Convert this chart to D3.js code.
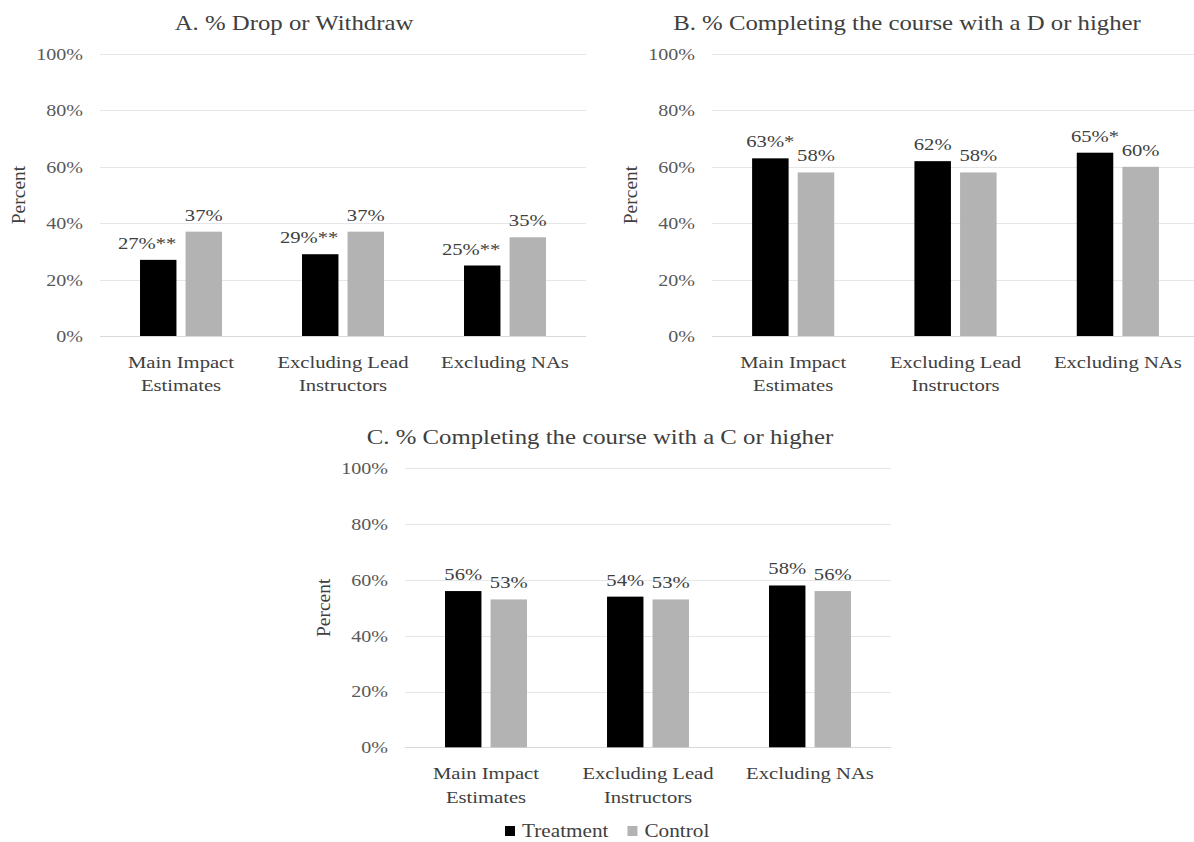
<!DOCTYPE html>
<html><head><meta charset="utf-8">
<script src="https://cdn.jsdelivr.net/npm/d3@7"></script>
<style>body{margin:0;background:#fff} svg{display:block} text{font-family:"Liberation Serif","Tinos","Times New Roman","DejaVu Serif",serif;}</style>
</head><body>
<svg id="chart" width="1194" height="842"></svg>
<script>
// ---- data ----
const categories = ["Main Impact Estimates", "Excluding Lead Instructors", "Excluding NAs"];
const series = ["Treatment", "Control"];
const titles = [
  "A. % Drop or Withdraw",
  "B. % Completing the course with a D or higher",
  "C. % Completing the course with a C or higher"
];
const yTicks = [0, 20, 40, 60, 80, 100];
const axisTitle = "Percent";

const dropTreatment = [27, 29, 25];
const dropControl   = [37, 37, 35];
const dropStars     = ["**", "**", "**"];

const dGradeTreatment = [63, 62, 65];
const dGradeControl   = [58, 58, 60];
const dGradeStars     = ["*", "", "*"];

const cGradeTreatment = [56, 54, 58];
const cGradeControl   = [53, 53, 56];
const cGradeStars     = ["", "", ""];

// ---- layout / style ----
const SX = 1.18;
const FONT = '"Liberation Serif","Tinos","Times New Roman","DejaVu Serif",serif';
const TEXT = "#404040", TICK = "#595959";
const svg = d3.select("#chart");
svg.append("rect").attr("width", 1194).attr("height", 842).attr("fill", "#fff");

const layouts = [
  {x0: 100, x1: 586, yTop: 54, yBot: 336, titleX: 294, titleY: 30},
  {x0: 712, x1: 1199, yTop: 54, yBot: 336, titleX: 907, titleY: 30},
  {x0: 405, x1: 891, yTop: 468.3, yBot: 747.3, titleX: 600, titleY: 444}
];
const panels = [
  {title: titles[0], t: dropTreatment, c: dropControl, s: dropStars},
  {title: titles[1], t: dGradeTreatment, c: dGradeControl, s: dGradeStars},
  {title: titles[2], t: cGradeTreatment, c: cGradeControl, s: cGradeStars}
];
const color = d3.scaleOrdinal().domain(series).range(["#000000", "#b3b3b3"]);

function sText(sel, x, y, txt, size, anchor, fill) {
  return sel.append("text")
    .attr("transform", `translate(${x},${y}) scale(${SX},1)`)
    .attr("text-anchor", anchor).style("font-family", FONT)
    .attr("font-size", size).attr("fill", fill).text(txt);
}

panels.forEach((p, i) => {
  const L = layouts[i];
  const g = svg.append("g");
  const y = d3.scaleLinear().domain([0, 100]).range([L.yBot, L.yTop]);
  const x = d3.scaleBand().domain(categories).range([L.x0, L.x1])
    .paddingInner(0.494).paddingOuter(0.247);
  const xs = d3.scaleBand().domain(series).range([0, x.bandwidth()]).paddingInner(0.2);

  // gridlines
  g.append("g").selectAll("line").data(yTicks).join("line")
    .attr("x1", L.x0).attr("x2", L.x1)
    .attr("y1", d => Math.round(y(d)) + 0.5).attr("y2", d => Math.round(y(d)) + 0.5)
    .attr("stroke", d => d === 0 ? "#d9d9d9" : "#e6e6e6").attr("stroke-width", 1);

  // y axis
  const ya = g.append("g").attr("transform", `translate(${L.x0},0)`)
    .call(d3.axisLeft(y).tickValues(yTicks).tickFormat(d => d + "%").tickSize(0).tickPadding(17));
  ya.attr("font-family", null);
  ya.select(".domain").remove();
  ya.selectAll("text").style("font-family", FONT).attr("font-size", 17).attr("fill", TICK)
    .attr("x", null).attr("transform", `translate(-17,0) scale(${SX},1)`);

  // axis title
  g.append("text")
    .attr("transform", `translate(${L.x0 - 82},${(L.yTop + L.yBot) / 2}) rotate(-90)`)
    .attr("text-anchor", "middle").attr("dy", "0.35em")
    .style("font-family", FONT).attr("font-size", 19.5).attr("fill", TEXT).text(axisTitle);

  // chart title
  sText(g, L.titleX, L.titleY, p.title, 21, "middle", TEXT);

  // bars
  const rows = categories.map((c, j) => ({cat: c, vals: [
    {s: series[0], v: p.t[j], star: p.s[j]},
    {s: series[1], v: p.c[j], star: ""}
  ]}));
  const grp = g.selectAll("g.grp").data(rows).join("g").attr("class", "grp")
    .attr("transform", d => `translate(${x(d.cat)},0)`);
  grp.selectAll("rect").data(d => d.vals).join("rect")
    .attr("x", d => xs(d.s)).attr("y", d => y(d.v))
    .attr("width", xs.bandwidth()).attr("height", d => y(0) - y(d.v))
    .attr("fill", d => color(d.s));

  // data labels
  grp.each(function(row) {
    const gg = d3.select(this);
    const ctrl = row.vals[1];
    row.vals.forEach(d => {
      const cx = xs(d.s) + xs.bandwidth() / 2;
      const by = y(d.v) - 11;
      const t = sText(gg, cx, by, d.v + "%" + d.star, 17.5, "middle", TEXT);
      if (d.s === series[0]) {
        const w = t.node().getComputedTextLength() * SX;
        const right = cx + w / 2;
        const barRight = xs(d.s) + xs.bandwidth();
        if (by > y(ctrl.v) && right > barRight) {
          t.attr("transform", `translate(${barRight - w / 2},${by}) scale(${SX},1)`);
        }
      }
    });
  });

  // category axis
  const xa = g.append("g").attr("transform", `translate(0,${L.yBot})`)
    .call(d3.axisBottom(x).tickSize(0).tickPadding(0));
  xa.attr("font-family", null);
  xa.select(".domain").remove();
  const maxW = 152;
  xa.selectAll("text").each(function(d) {
    const t = d3.select(this);
    t.text(null).attr("y", null).attr("dy", null)
      .style("font-family", FONT).attr("font-size", 17.5).attr("fill", TEXT)
      .attr("transform", `translate(0,32) scale(${SX},1)`);
    const words = d.split(" ");
    let line = [];
    let ts = t.append("tspan").attr("x", 0).attr("dy", 0);
    words.forEach(wd => {
      line.push(wd);
      ts.text(line.join(" "));
      if (ts.node().getComputedTextLength() * SX > maxW && line.length > 1) {
        line.pop();
        ts.text(line.join(" "));
        line = [wd];
        ts = t.append("tspan").attr("x", 0).attr("dy", 23.5).text(wd);
      }
    });
  });
});

// legend
const lg = svg.append("g");
let lx = 505;
series.forEach((s, k) => {
  lg.append("rect").attr("x", lx).attr("y", 826).attr("width", 10).attr("height", 10).attr("fill", color(s));
  const t = sText(lg, lx + 17, 837, s, 18, "start", TEXT);
  lx = lx + 17 + t.node().getComputedTextLength() * SX + 19;
});
</script>
</body></html>
